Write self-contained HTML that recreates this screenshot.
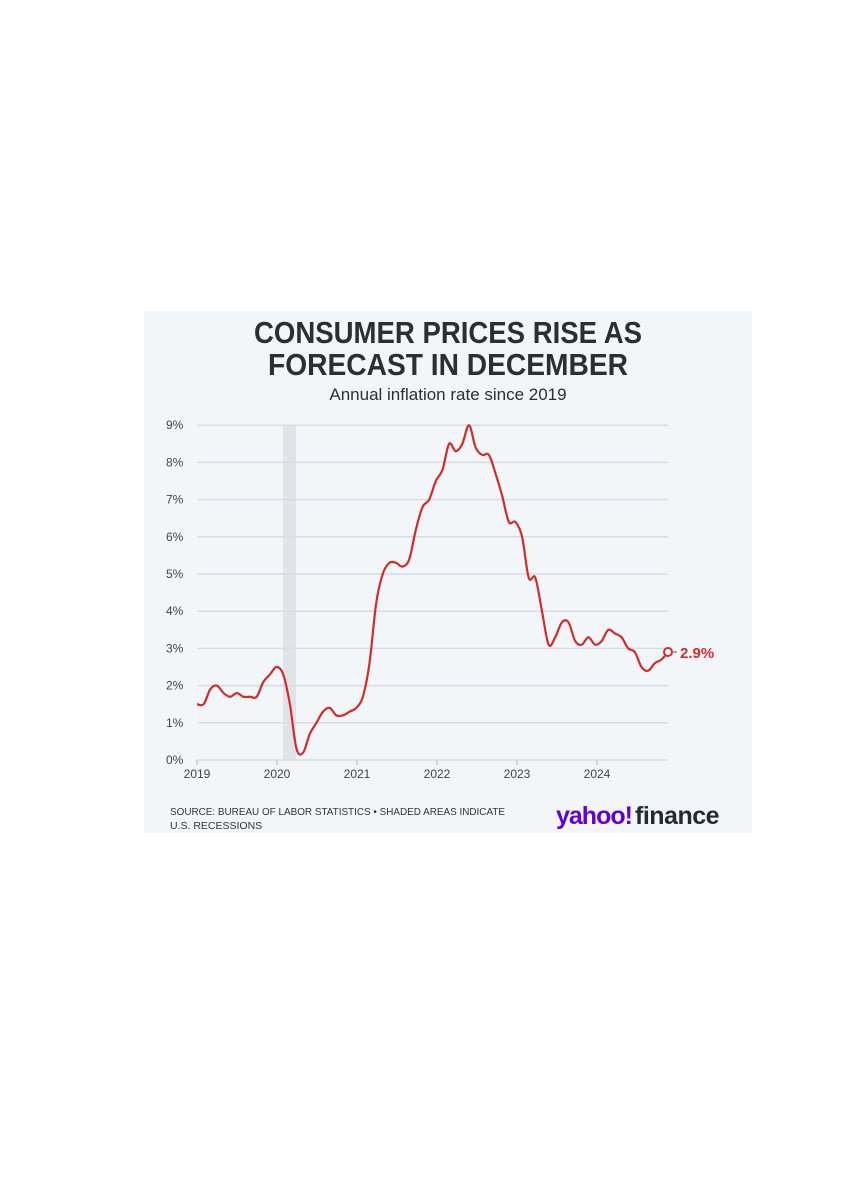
<!DOCTYPE html>
<html><head><style>
body{margin:0;width:841px;height:1191px;background:#fff;position:relative;overflow:hidden;font-family:"Liberation Sans",sans-serif}
</style></head><body>
<svg width="841" height="1191" style="position:absolute;left:0;top:0">
<rect x="144" y="311" width="608" height="522" fill="#f3f6f9"/>
<text x="448" y="343" text-anchor="middle" font-size="31" font-weight="bold" fill="#2e2e2e" textLength="388" lengthAdjust="spacingAndGlyphs">CONSUMER PRICES RISE AS</text>
<text x="448" y="375" text-anchor="middle" font-size="31" font-weight="bold" fill="#2e2e2e" textLength="360" lengthAdjust="spacingAndGlyphs">FORECAST IN DECEMBER</text>
<text x="448" y="400" text-anchor="middle" font-size="17" fill="#2e2e2e">Annual inflation rate since 2019</text>
<rect x="283" y="425" width="13" height="335" fill="#e0e3e7"/>
<g id="grid" stroke="#d8dbdf" stroke-width="1.5"></g>
<g id="lab" font-size="12" fill="#444"></g>
<path id="line" fill="none" stroke="#d02c2c" stroke-width="2.2" stroke-linejoin="round"/>
<circle cx="668" cy="652" r="4" fill="#fff" stroke="#d02c2c" stroke-width="2"/>
<line x1="672" y1="652" x2="677" y2="652" stroke="#d02c2c" stroke-width="1"/>
<text x="680" y="658" font-size="15" font-weight="bold" fill="#d02c2c">2.9%</text>
<text x="170" y="815" font-size="10.5" fill="#333" textLength="335" lengthAdjust="spacingAndGlyphs">SOURCE: BUREAU OF LABOR STATISTICS • SHADED AREAS INDICATE</text>
<text x="170" y="829" font-size="10.5" fill="#333">U.S. RECESSIONS</text>
<text x="556" y="824" font-size="25" font-weight="bold" fill="#6001d2" letter-spacing="-1">yahoo!</text>
<text x="635" y="824" font-size="25" font-weight="bold" fill="#232a31" letter-spacing="-0.5">finance</text>
</svg>
<script>
var ns="http://www.w3.org/2000/svg";
var g=document.getElementById('grid'),l=document.getElementById('lab');
function Y(v){return 760-v*37.2;}
for(var i=0;i<=9;i++){var y=Y(i);var ln=document.createElementNS(ns,'line');ln.setAttribute('x1',197);ln.setAttribute('x2',668);ln.setAttribute('y1',y);ln.setAttribute('y2',y);g.appendChild(ln);
var t=document.createElementNS(ns,'text');t.setAttribute('x',166);t.setAttribute('y',y+4);t.textContent=i+'%';l.appendChild(t);}
var yrs=[2019,2020,2021,2022,2023,2024];
for(var k=0;k<6;k++){var x=197+k*80;var t=document.createElementNS(ns,'text');t.setAttribute('x',x);t.setAttribute('y',778);t.setAttribute('text-anchor','middle');t.textContent=yrs[k];l.appendChild(t);
var tk=document.createElementNS(ns,'line');tk.setAttribute('x1',x);tk.setAttribute('x2',x);tk.setAttribute('y1',760);tk.setAttribute('y2',765);tk.setAttribute('stroke','#ccc');g.appendChild(tk);}
var d=[1.5,1.5,1.9,2.0,1.8,1.7,1.8,1.7,1.7,1.7,2.1,2.3,2.5,2.3,1.5,0.3,0.2,0.7,1.0,1.3,1.4,1.2,1.2,1.3,1.4,1.7,2.6,4.2,5.0,5.3,5.3,5.2,5.4,6.2,6.8,7.0,7.5,7.8,8.5,8.3,8.5,9.0,8.4,8.2,8.2,7.7,7.1,6.4,6.4,6.0,4.9,4.9,4.0,3.1,3.3,3.7,3.7,3.2,3.1,3.3,3.1,3.2,3.5,3.4,3.3,3.0,2.9,2.5,2.4,2.6,2.7,2.9];
var p=d.map(function(v,i){return [197+i*80/12*(471/473.3),Y(v)];});
var s='M'+p[0][0]+','+p[0][1];
for(var i=0;i<p.length-1;i++){var p0=p[Math.max(i-1,0)],p1=p[i],p2=p[i+1],p3=p[Math.min(i+2,p.length-1)];
s+=' C'+(p1[0]+(p2[0]-p0[0])/6)+','+(p1[1]+(p2[1]-p0[1])/6)+' '+(p2[0]-(p3[0]-p1[0])/6)+','+(p2[1]-(p3[1]-p1[1])/6)+' '+p2[0]+','+p2[1];}
document.getElementById('line').setAttribute('d',s);
</script>
</body></html>
